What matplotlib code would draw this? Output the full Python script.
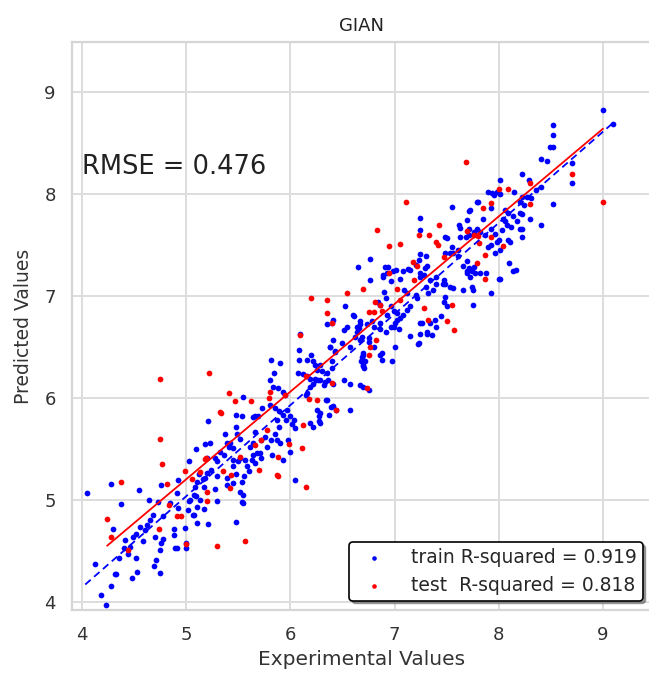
import numpy as np
import matplotlib
matplotlib.use("Agg")
import matplotlib.pyplot as plt
import seaborn as sns

# Train points (experimental, predicted)
train_points = [
    (4.05, 5.07), (4.28, 5.16), (4.55, 5.10), (4.37, 4.96), (4.76, 5.15), (4.64, 5.00), (4.92, 5.19),
    (4.30, 4.71), (4.49, 4.64), (4.52, 4.67), (4.56, 4.73), (4.41, 4.61), (4.40, 4.53), (4.35, 4.43),
    (4.46, 4.54), (4.52, 4.43), (4.65, 4.80), (4.70, 4.64), (4.71, 4.41), (4.69, 4.35), (4.76, 4.58),
    (4.88, 4.71), (4.88, 4.66), (4.91, 4.53), (5.00, 4.53), (4.99, 4.72), (4.92, 4.92), (4.84, 4.97),
    (4.91, 5.07), (4.78, 4.84), (4.73, 4.98), (4.68, 4.85), (4.12, 4.37), (4.32, 4.27), (4.28, 4.16),
    (4.18, 4.07), (4.23, 3.97), (4.48, 4.23), (4.53, 4.29), (5.03, 4.99), (5.09, 5.04), (5.10, 5.18),
    (5.20, 5.26), (5.03, 5.38), (5.09, 5.50), (5.18, 5.55), (5.23, 5.56), (5.28, 5.11), (5.29, 4.99),
    (5.21, 4.76), (5.10, 4.77), (5.06, 4.85), (5.17, 4.91), (5.00, 4.58), (4.75, 4.51), (4.78, 4.62),
    (4.89, 4.53), (4.75, 4.28), (4.33, 4.27), (5.12, 5.25), (5.16, 5.20), (5.08, 5.13), (5.07, 5.05),
    (5.13, 5.00), (5.04, 5.00), (5.10, 4.93), (5.02, 4.90), (5.07, 4.85), (4.60, 4.70), (4.62, 4.75),
    (4.44, 4.47), (4.58, 4.60),
    (5.21, 5.77), (5.48, 5.83), (5.53, 5.82), (5.64, 5.81), (5.48, 4.78), (5.52, 5.08), (5.54, 5.05),
    (5.54, 4.97), (5.64, 5.56), (5.68, 5.46), (5.63, 5.39), (5.58, 5.33), (5.52, 5.41), (5.45, 5.39),
    (5.37, 5.65), (5.39, 5.56), (5.41, 5.52), (5.29, 5.38), (5.24, 5.29), (5.29, 5.23), (5.39, 5.21),
    (5.39, 5.15), (5.45, 5.17), (5.53, 5.18), (5.53, 4.98), (5.48, 5.71), (5.49, 5.65), (5.52, 5.60),
    (5.42, 5.56), (5.45, 5.51), (5.32, 5.47), (5.28, 5.41), (5.20, 5.41), (5.36, 5.44), (5.61, 5.52),
    (5.64, 5.44), (5.66, 5.36), (5.60, 5.28), (5.55, 5.23), (5.48, 5.25), (5.45, 5.33), (5.50, 5.38),
    (5.56, 5.39), (5.77, 5.52), (5.82, 5.44), (5.71, 5.46), (5.72, 5.41), (5.90, 5.56), (5.98, 5.59),
    (6.00, 5.47), (5.93, 5.39), (5.18, 5.21), (5.17, 5.13), (5.54, 6.01), (5.73, 5.90), (5.66, 5.82),
    (5.69, 5.82), (5.80, 5.93), (5.85, 5.90), (5.89, 5.87), (5.93, 5.83), (5.97, 5.88), (6.00, 5.82),
    (6.03, 5.78), (6.01, 5.74), (6.04, 5.70), (5.96, 5.78), (5.87, 5.78), (5.89, 5.71), (5.85, 5.65),
    (5.81, 5.59), (5.87, 5.59), (5.76, 5.62), (5.72, 5.59), (5.66, 5.67), (6.04, 5.19), (5.81, 6.37),
    (5.90, 6.34), (5.84, 6.24), (5.80, 6.18), (5.83, 6.11), (5.88, 6.10), (5.93, 6.06), (5.95, 6.03),
    (6.08, 6.47), (6.20, 6.42), (6.16, 6.37), (6.24, 6.32), (6.25, 6.27), (6.38, 6.50), (6.43, 6.45),
    (6.40, 6.36), (6.07, 6.24), (6.12, 6.23), (6.16, 6.21), (6.19, 6.19), (6.24, 6.19), (6.26, 6.18),
    (6.28, 6.18), (6.33, 6.16), (6.36, 6.18), (6.32, 6.13), (6.22, 6.14), (6.19, 6.11), (6.16, 6.05),
    (6.15, 6.03), (6.19, 5.75), (6.22, 5.71), (6.27, 5.77), (6.34, 5.98), (6.39, 5.91), (6.37, 5.83),
    (6.25, 5.88), (6.09, 6.63), (6.08, 6.37), (6.57, 5.88), (6.44, 5.88), (6.35, 5.98), (6.28, 5.85),
    (6.41, 5.92), (6.27, 5.82), (6.28, 5.75), (6.22, 6.36), (6.28, 6.32), (6.30, 6.26), (6.35, 6.24),
    (6.40, 6.29), (6.41, 6.14), (6.51, 6.18), (6.57, 6.14), (6.70, 6.11), (6.67, 6.13), (6.75, 6.08),
    (6.69, 6.40), (6.70, 6.32), (6.71, 6.29), (6.41, 6.76), (6.35, 6.72), (6.51, 6.67), (6.41, 6.57),
    (6.49, 6.54), (6.57, 6.50), (6.38, 6.50), (6.43, 6.46), (6.52, 6.90), (6.60, 6.81), (6.67, 6.72),
    (6.64, 6.65), (6.69, 6.60), (6.54, 6.70), (6.40, 6.73),
    (7.24, 7.41), (7.30, 7.39), (7.31, 7.29), (7.24, 7.22), (7.28, 7.21), (7.13, 7.26), (6.94, 7.28),
    (6.93, 7.22), (6.98, 7.24), (7.01, 7.25), (6.89, 7.21), (6.96, 7.15), (7.05, 7.17), (6.76, 7.36),
    (6.65, 7.28), (6.76, 7.16), (6.90, 7.04), (6.92, 6.98), (6.84, 6.94), (6.86, 6.91), (7.09, 7.06),
    (7.12, 7.03), (7.20, 7.01), (7.21, 6.98), (7.30, 7.09), (7.32, 7.03), (7.37, 7.06), (7.40, 7.12),
    (6.96, 6.90), (6.99, 6.85), (6.93, 6.81), (7.02, 6.76), (7.05, 6.78), (7.08, 6.81), (7.12, 6.86),
    (7.15, 6.90), (6.99, 6.70), (7.04, 6.68), (7.24, 6.73), (7.31, 6.65), (7.36, 6.62), (7.39, 6.76),
    (7.15, 6.61), (7.22, 6.53), (6.61, 6.80), (6.67, 6.75), (6.66, 6.69), (6.73, 6.72), (6.78, 6.75),
    (6.86, 6.73), (6.67, 6.57), (6.75, 6.59), (6.70, 6.44), (6.72, 6.36), (6.86, 6.42), (7.00, 6.50),
    (6.97, 6.36), (7.23, 7.35), (7.24, 7.76), (7.24, 7.65), (7.48, 7.58), (7.53, 7.42), (7.61, 7.39),
    (7.66, 7.29), (7.69, 7.24), (7.76, 7.28), (7.82, 7.22), (7.72, 7.19), (7.92, 7.03), (7.75, 6.91),
    (8.00, 7.17), (8.14, 7.24), (8.10, 7.32), (7.08, 7.24), (7.15, 7.25), (7.20, 7.30), (7.34, 7.16),
    (7.40, 7.19), (7.47, 7.16), (7.53, 7.09), (7.56, 7.08), (7.48, 6.99), (7.47, 6.94), (7.50, 6.90),
    (7.66, 7.06), (7.75, 7.06), (7.44, 6.80), (7.34, 6.73), (7.40, 6.70), (7.26, 6.73), (7.24, 6.63),
    (7.23, 6.54), (7.31, 6.63), (7.02, 6.83), (7.00, 6.73), (6.96, 6.70), (6.92, 6.65), (6.86, 6.68),
    (6.80, 6.70), (6.88, 6.44), (6.88, 6.37), (6.70, 6.42), (6.68, 6.36), (6.70, 6.31), (6.75, 6.55),
    (6.80, 6.50), (6.62, 6.60), (6.64, 6.70), (6.91, 7.28), (6.89, 7.19), (7.29, 7.27), (7.24, 7.19),
    (7.71, 7.27), (7.74, 7.24), (7.77, 7.22), (7.69, 7.22), (7.88, 7.22), (7.48, 7.12), (7.74, 7.09),
    (7.50, 7.57), (7.55, 7.48), (7.48, 7.42), (7.56, 7.42), (7.61, 7.45), (7.69, 7.34),
    (8.49, 8.46), (8.40, 8.34), (8.46, 8.32), (8.22, 8.20), (8.01, 8.14), (7.90, 8.02), (7.93, 8.01),
    (7.98, 8.02), (8.01, 8.00), (7.95, 7.99), (8.15, 8.02), (7.80, 7.92), (7.92, 7.86), (7.72, 7.84),
    (7.55, 7.87), (8.20, 7.92), (8.24, 7.89), (8.27, 7.97), (8.31, 7.96), (8.36, 8.04), (8.40, 8.07),
    (8.52, 7.90), (8.06, 7.84), (8.14, 7.78), (8.04, 7.75), (8.08, 7.70), (8.03, 7.65), (8.17, 7.73),
    (8.20, 7.66), (8.30, 7.75), (8.40, 7.70), (7.85, 7.75), (7.69, 7.74), (7.63, 7.67), (7.71, 7.60),
    (7.76, 7.63), (7.82, 7.63), (7.87, 7.60), (7.92, 7.66), (7.96, 7.61), (8.00, 7.55), (8.09, 7.55),
    (7.96, 7.42), (7.90, 7.48), (8.01, 7.45), (9.00, 8.82), (9.10, 8.69), (8.52, 8.68), (8.52, 8.58),
    (8.52, 8.46), (8.70, 8.30), (8.70, 8.11), (8.29, 8.14), (8.22, 7.80), (8.22, 7.58), (7.79, 7.92),
    (7.71, 7.83), (7.62, 7.70), (7.71, 7.66), (7.79, 7.66), (8.06, 7.73), (8.09, 7.81), (8.12, 7.68),
    (8.22, 7.66), (8.11, 7.53), (7.98, 7.53), (7.92, 7.50), (8.22, 7.97), (8.20, 7.81), (7.46, 7.12),
    (7.63, 7.58), (7.68, 7.58), (8.16, 7.25), (8.01, 7.17),
]

# Test points (experimental, predicted)
test_points = [
    (4.37, 5.18), (4.24, 4.81), (4.28, 4.64), (4.44, 4.51), (4.74, 4.71), (4.81, 5.16), (4.77, 5.35),
    (4.75, 5.60), (4.75, 6.19), (4.83, 4.95), (4.91, 4.84), (4.95, 4.84), (5.00, 4.57), (4.99, 5.28),
    (5.05, 5.20), (5.13, 5.27), (5.20, 5.08), (5.20, 4.99), (5.29, 4.55), (5.18, 5.40), (5.56, 4.60),
    (5.33, 5.85), (5.47, 5.97), (5.62, 5.97), (5.43, 5.24), (5.42, 5.12), (5.22, 6.24), (5.41, 6.05),
    (5.32, 5.86), (5.80, 6.06), (5.79, 6.00), (5.95, 6.03), (6.18, 5.99), (6.25, 5.98), (6.44, 5.88),
    (6.12, 5.73), (5.77, 5.69), (5.72, 5.59), (5.99, 5.55), (6.11, 5.51), (5.88, 5.42), (5.66, 5.54),
    (5.52, 5.42), (5.70, 5.29), (5.88, 5.23), (6.15, 5.13), (5.19, 5.41), (5.35, 5.28), (5.87, 5.24),
    (6.95, 7.49), (7.05, 7.51), (6.95, 7.22), (7.18, 7.33), (7.21, 7.29), (7.19, 7.16), (7.02, 7.07),
    (6.70, 7.07), (6.54, 7.03), (6.20, 6.98), (6.35, 6.96), (6.35, 6.83), (6.40, 6.73), (6.81, 6.94),
    (6.86, 6.91), (6.88, 6.85), (6.80, 6.84), (6.75, 6.84), (7.05, 6.96), (7.28, 6.88), (7.32, 6.76),
    (6.82, 6.57), (6.76, 6.50), (6.75, 6.42), (6.15, 6.21), (6.40, 6.15), (6.73, 6.10), (6.09, 6.62),
    (7.11, 7.92), (6.83, 7.65), (7.23, 7.60), (7.33, 7.60), (7.40, 7.53), (7.42, 7.50), (7.43, 7.70),
    (7.69, 7.64), (7.76, 7.60), (7.92, 7.91), (7.85, 7.86), (7.79, 7.32), (7.87, 7.17), (8.04, 7.49),
    (8.00, 8.05), (8.09, 8.05), (7.47, 7.38), (7.55, 6.91), (7.50, 6.75), (7.57, 6.67), (7.68, 8.31),
    (8.30, 8.11), (8.30, 7.90), (7.80, 7.59), (7.92, 7.58), (7.81, 7.52), (7.87, 7.40), (9.00, 7.92),
    (8.70, 8.20),
]

# Fitted lines (end points)
train_fit_x = [4.03, 9.10]
train_fit_y = [4.17, 8.70]
test_fit_x = [4.24, 9.00]
test_fit_y = [4.55, 8.64]

train_r2 = 0.919
test_r2 = 0.818
rmse = 0.476

train_exp, train_pred = np.array(train_points).T
test_exp, test_pred = np.array(test_points).T

sns.set_style("whitegrid", {'grid.color': '#dddddd', 'axes.edgecolor': '#d5d5d5'})
plt.rcParams['font.family'] = ['DejaVu Sans']
plt.rcParams['grid.linewidth'] = 1.4
plt.rcParams['axes.linewidth'] = 1.6

fig = plt.figure(figsize=(6.49, 6.77), dpi=100)
ax = fig.add_axes([71.7 / 649, 1 - 610 / 677, (652 - 71.7) / 649, (610 - 42) / 677])

ax.scatter(train_exp, train_pred, s=17, color='blue', linewidths=0,
           label='train R-squared = %.3f' % train_r2)
ax.scatter(test_exp, test_pred, s=17, color='red', linewidths=0,
           label='test  R-squared = %.3f' % test_r2)

ax.plot(train_fit_x, train_fit_y, color='blue', linestyle=(0, (4, 2.5)), linewidth=1.3)
ax.plot(test_fit_x, test_fit_y, color='red', linestyle='-', linewidth=1.3)

ax.text(4.0, 8.2, 'RMSE = %.3f' % rmse, fontsize=18.5, color='#222222')

ax.set_xlim(3.90, 9.47)
ax.set_ylim(3.92, 9.49)
ax.set_xticks([4, 5, 6, 7, 8, 9])
ax.set_yticks([4, 5, 6, 7, 8, 9])
ax.tick_params(labelsize=13, colors='#333333', pad=8)
ax.set_xlabel('Experimental Values', fontsize=14.5, color='#333333')
ax.set_ylabel('Predicted Values', fontsize=13.5, color='#333333', labelpad=8)
ax.set_title('GIAN', fontsize=13, color='#222222', pad=8)

leg = ax.legend(loc='lower right', fontsize=13.5, shadow=True, framealpha=1,
                edgecolor='black', markerscale=0.8, borderpad=0.3, handletextpad=1.0)
leg.get_frame().set_linewidth(1.2)

fig.savefig('out.png', dpi=100)
